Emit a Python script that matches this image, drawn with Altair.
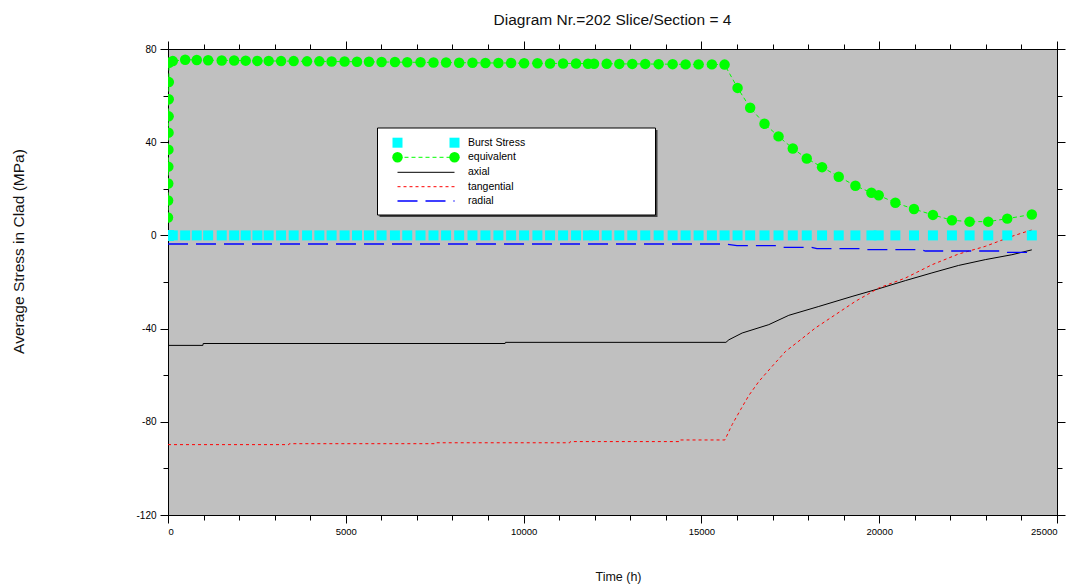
import altair as alt
import pandas as pd

# ---------------- data ----------------
eq_time = [0, 3, 6, 9, 12, 15, 18, 21, 24, 30,
           135, 483, 809, 1129, 1511, 1860, 2185, 2514, 2831, 3180, 3534, 3910, 4256,
           4601, 4966, 5315, 5652, 6006, 6382, 6728, 7101, 7466, 7820, 8188, 8562,
           8927, 9292, 9649, 10014, 10388, 10744, 11110, 11475, 11812, 11980, 12337,
           12691, 13056, 13421, 13798, 14191, 14556, 14921, 15295, 15652,
           16017, 16371, 16775, 17169, 17570, 17963, 18393, 18862, 19331, 19781,
           19986, 20455, 20978, 21511, 22045, 22542, 23067, 23601, 24292]
eq_value = [7.7, 15.0, 22.3, 29.5, 36.8, 44.1, 51.1, 58.4, 65.8, 74.1,
            74.8, 75.4, 75.3, 75.2, 75.1, 75.1, 75.0, 74.9, 74.9, 74.8, 74.8, 74.7, 74.7,
            74.6, 74.6, 74.5, 74.5, 74.4, 74.4, 74.3, 74.3, 74.2, 74.2, 74.1, 74.1,
            74.0, 74.0, 74.0, 73.9, 73.9, 73.8, 73.8, 73.8, 73.7, 73.7, 73.7,
            73.6, 73.6, 73.6, 73.5, 73.5, 73.4, 73.4, 73.4, 73.3,
            63.3, 54.8, 47.9, 42.5, 37.3, 33.0, 29.3, 25.2, 21.3, 18.3,
            17.2, 14.0, 11.3, 8.8, 6.5, 5.9, 5.9, 7.2, 9.0]

burst_time = eq_time
burst_value = [0.0] * len(eq_time)

axial_time = [0, 980, 990, 9480, 9490, 15690, 15773, 16146, 16896, 17458, 18301,
              19236, 19986, 20736, 21483, 22230, 22983, 23730, 24292]
axial_value = [-47.2, -47.2, -46.4, -46.4, -45.9, -45.9, -44.8, -41.9, -38.3, -34.3,
               -30.5, -26.2, -22.9, -19.4, -16.1, -12.9, -10.4, -8.3, -6.2]

tang_time = [0, 3400, 3410, 7540, 7550, 11300, 11310, 14370, 14380, 15660,
             15773, 15865, 16101, 16334, 16615, 16989, 17365, 17787, 18208, 18770,
             19331, 19986, 20736, 21483, 22230, 22983, 23730, 24152, 24292]
tang_value = [-89.8, -89.8, -89.4, -89.4, -89.0, -89.0, -88.5, -88.5, -87.8, -87.8,
              -84.1, -81.2, -74.8, -68.7, -62.7, -56.2, -49.8, -44.8, -39.7, -34.0,
              -28.3, -22.6, -18.3, -12.6, -8.0, -4.7, -0.4, 1.7, 2.3]

rad_time = [0, 15688, 16000, 17100, 17250, 18100, 18250, 19500, 19650, 21150,
            21300, 23450, 23600, 24292]
rad_value = [-3.7, -3.7, -4.4, -4.4, -5.1, -5.1, -5.7, -5.7, -6.1, -6.1,
             -6.7, -6.7, -7.3, -7.3]

legend_labels = ["Burst Stress", "equivalent", "axial", "tangential", "radial"]

x_ticks = list(range(0, 25001, 1000))
y_ticks = list(range(-120, 81, 20))

# ---------------- styling ----------------
FONT = "Liberation Sans, Arial, sans-serif"
W, H = 889, 466
xs = alt.Scale(domain=[0, 25000], nice=False, zero=False)
ys = alt.Scale(domain=[-120, 80], nice=False, zero=False)

xt_size = {"condition": {"test": "datum.value % 5000 === 0", "value": 8}, "value": 5}
yt_size = {"condition": {"test": "datum.value % 40 === 0", "value": 8}, "value": 5}

common = dict(domainColor="#000000", tickColor="#000000", grid=False, domainWidth=1,
              tickWidth=1, labelColor="#000000", labelFont=FONT,
              titleFont=FONT, titleFontWeight="normal", titleColor="#111111")

x_bottom = alt.Axis(orient="bottom", values=x_ticks, tickSize=xt_size,
                    labelExpr="datum.value % 5000 === 0 ? toString(datum.value) : ''",
                    labelPadding=3, labelFontSize=9.5, title="Time (h)", titleX=450, titleY=61,
                    titleFontSize=12.5, titleBaseline="middle", **common)
y_left = alt.Axis(orient="left", values=y_ticks, tickSize=yt_size,
                  labelExpr="datum.value % 40 === 0 ? toString(datum.value) : ''",
                  labelPadding=4, labelFontSize=10, title="Average Stress in Clad (MPa)",
                  titleX=-150, titleY=202, titleAngle=270, titleBaseline="middle",
                  titleAlign="center", titleFontSize=15.5, **common)
x_top = alt.Axis(orient="top", values=x_ticks, tickSize=xt_size, labels=False,
                 title=None, **common)
y_right = alt.Axis(orient="right", values=y_ticks, tickSize=yt_size, labels=False,
                   title=None, **common)

eq_df = pd.DataFrame({"t": eq_time, "v": eq_value})
burst_df = pd.DataFrame({"t": burst_time, "v": burst_value})
ax_df = pd.DataFrame({"t": axial_time, "v": axial_value})
tg_df = pd.DataFrame({"t": tang_time, "v": tang_value})
rd_df = pd.DataFrame({"t": rad_time, "v": rad_value})


def enc(xaxis=None, yaxis=None):
    return dict(x=alt.X("t:Q", scale=xs, axis=xaxis), y=alt.Y("v:Q", scale=ys, axis=yaxis))


axial = alt.Chart(ax_df).mark_line(color="#000000", strokeWidth=1, clip=True).encode(
    **enc(x_bottom, y_left))
tang = alt.Chart(tg_df).mark_line(color="#FF0000", strokeWidth=1, strokeDash=[3, 3],
                                  clip=True).encode(**enc())
rad = alt.Chart(rd_df).mark_line(color="#0000FF", strokeWidth=1.3, strokeDash=[20, 8],
                                 clip=True).encode(**enc())
eq_line = alt.Chart(eq_df).mark_line(color="#00FF00", strokeWidth=1, strokeDash=[4, 3],
                                     clip=True).encode(**enc())
burst = alt.Chart(burst_df).mark_point(shape="square", filled=True, size=100, opacity=1,
                                       color="#00FFFF", clip=True).encode(**enc(x_top, y_right))
eq_pts = alt.Chart(eq_df).mark_point(shape="circle", filled=True, size=110, opacity=1,
                                     color="#00FF00", clip=True).encode(**enc())

# ---------------- legend (drawn by hand, pixel positions) ----------------
one = pd.DataFrame({"a": [0]})
LX0, LX1, LY0, LY1 = 209.5, 487.5, 79, 166
S1, S2, TX = 229.5, 286.5, 300
rows = [93.7, 108.3, 123.3, 137.7, 152.0]

lg = []
lg.append(alt.Chart(one).mark_rect(fill="#404040").encode(
    x=alt.value(LX0 + 2), x2=alt.value(LX1 + 2), y=alt.value(LY0 + 2), y2=alt.value(LY1 + 2)))
lg.append(alt.Chart(one).mark_rect(fill="#FFFFFF", stroke="#000000", strokeWidth=1).encode(
    x=alt.value(LX0), x2=alt.value(LX1), y=alt.value(LY0), y2=alt.value(LY1)))
for sx in (S1, S2):
    lg.append(alt.Chart(one).mark_point(shape="square", filled=True, size=100, opacity=1,
                                        color="#00FFFF").encode(x=alt.value(sx), y=alt.value(rows[0])))
lg.append(alt.Chart(one).mark_rule(color="#00FF00", strokeWidth=1, strokeDash=[4, 3]).encode(
    x=alt.value(S1), x2=alt.value(S2), y=alt.value(rows[1])))
for sx in (S1, S2):
    lg.append(alt.Chart(one).mark_point(shape="circle", filled=True, size=110, opacity=1,
                                        color="#00FF00").encode(x=alt.value(sx), y=alt.value(rows[1])))
lg.append(alt.Chart(one).mark_rule(color="#000000", strokeWidth=1).encode(
    x=alt.value(S1), x2=alt.value(S2), y=alt.value(rows[2])))
lg.append(alt.Chart(one).mark_rule(color="#FF0000", strokeWidth=1, strokeDash=[3, 3]).encode(
    x=alt.value(S1), x2=alt.value(S2), y=alt.value(rows[3])))
lg.append(alt.Chart(one).mark_rule(color="#0000FF", strokeWidth=1.3, strokeDash=[20, 8]).encode(
    x=alt.value(S1), x2=alt.value(S2), y=alt.value(rows[4])))
for lab, ry in zip(legend_labels, rows):
    lg.append(alt.Chart(one).mark_text(text=lab, align="left", baseline="middle",
                                       font=FONT, fontSize=10.5, color="#000000").encode(
        x=alt.value(TX), y=alt.value(ry)))

chart = alt.layer(axial, tang, rad, eq_line, burst, eq_pts, *lg).resolve_axis(
    x="independent", y="independent"
).properties(
    width=W, height=H,
    title=alt.TitleParams("Diagram Nr.=202 Slice/Section = 4", font=FONT, fontSize=15.5,
                          fontWeight="normal", color="#111111", anchor="middle", offset=12),
    autosize=alt.AutoSizeParams(type="none"),
    padding={"left": 168, "top": 49, "right": 17, "bottom": 71},
    background="#FFFFFF",
).configure_view(fill="#C0C0C0", stroke="#000000", strokeWidth=1)

chart.save("out.html", embed_options={"renderer": "svg", "actions": False})
